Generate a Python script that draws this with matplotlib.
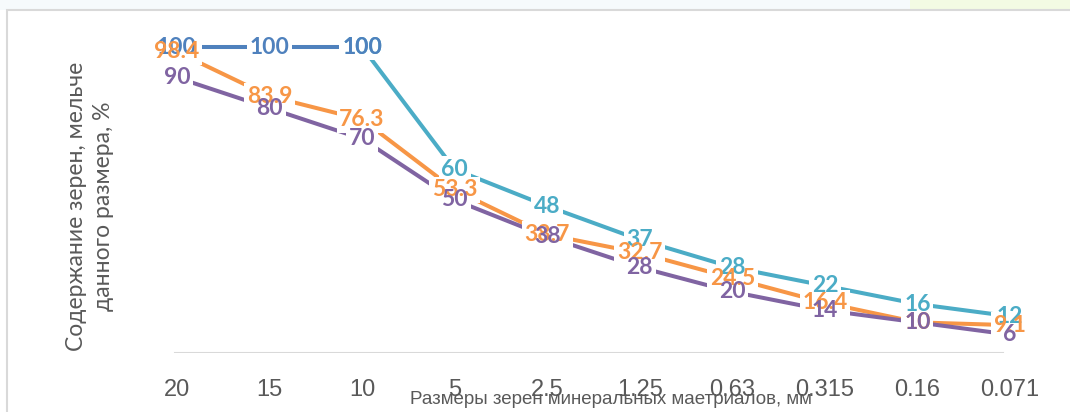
import numpy as np
import matplotlib
matplotlib.use("Agg")
import matplotlib.pyplot as plt
from matplotlib.patches import Rectangle

# data
sizes = ['20', '15', '10', '5', '2.5', '1.25', '0.63', '0.315', '0.16', '0.071']
blue_vals = [100, 100, 100]
teal_vals = [np.nan, np.nan, 100, 60, 48, 37, 28, 22, 16, 12]
orange_vals = [98.4, 83.9, 76.3, 53.3, 38.7, 32.7, 24.5, 16.4, 10, 9.1]
purple_vals = [90, 80, 70, 50, 38, 28, 20, 14, 10, 6]

series = [
    (teal_vals, '#4BACC6'),
    (blue_vals, '#4F81BD'),
    (orange_vals, '#F79646'),
    (purple_vals, '#8064A2'),
]

W, H = 1070, 412
fig = plt.figure(figsize=(W / 100, H / 100), dpi=100)
fig.patch.set_facecolor('white')

# faint background above the chart frame and the frame itself
fig.patches.append(Rectangle((0, 1 - 10 / H), 1, 10 / H, transform=fig.transFigure,
                             facecolor='#F6FAFC', edgecolor='none', zorder=0))
fig.patches.append(Rectangle((910 / W, 1 - 10 / H), 160 / W, 10 / H, transform=fig.transFigure,
                             facecolor='#F3FBE3', edgecolor='none', zorder=0))
fig.patches.append(Rectangle((7 / W, -0.1), 1.2, 1 - 10 / H + 0.1, transform=fig.transFigure,
                             facecolor='none', edgecolor='#D9D9D9', lw=1.5, zorder=1))

ax = fig.add_axes([130.7 / W, (H - 353) / H, 925.6 / W, 105 * 3.06 / H])
ax.set_facecolor('none')
ax.set_xlim(-0.5, 9.5)
ax.set_ylim(0, 105)

x = np.arange(len(sizes))
for vals, col in series:
    ax.plot(x[:len(vals)], vals, color=col, lw=2.9, solid_capstyle='butt', zorder=2)

lab_font = dict(family=['Lato', 'DejaVu Sans'], fontsize=16.5, fontweight='bold')
# white boxes first, then the texts, so overlapping labels stay readable
for vals, col in series:
    for xi, v in zip(x, vals):
        if np.isnan(v):
            continue
        ax.text(xi, v, f'{v:g}', ha='center', va='center', color='none', zorder=5,
                bbox=dict(boxstyle='square,pad=0.12', fc='white', ec='none'), **lab_font)
for vals, col in series:
    for xi, v in zip(x, vals):
        if np.isnan(v):
            continue
        ax.text(xi, v, f'{v:g}', ha='center', va='center', color=col, zorder=6, **lab_font)

ax.axhline(0, xmin=0.048, xmax=0.942, color='#D9D9D9', lw=1.5, zorder=1)
for s in ax.spines.values():
    s.set_visible(False)
ax.set_yticks([])
ax.set_xticks(x)
ax.set_xticklabels(sizes, family=['Liberation Sans', 'DejaVu Sans'],
                   fontsize=17, color='#595959')
ax.tick_params(axis='x', length=0, pad=19)

fig.text(90 / W, 1 - 206 / H, 'Содержание зерен, мельче\nданного размера, %',
         rotation=90, ha='center', va='center', multialignment='center',
         family=['Lato', 'DejaVu Sans'], fontsize=16.5, color='#595959', linespacing=1.35)
fig.text(611 / W, 1 - 404 / H, 'Размеры зерен минеральных маетриалов, мм',
         ha='center', va='baseline', family=['Liberation Sans', 'DejaVu Sans'],
         fontsize=13.5, color='#595959')

fig.savefig('out.png', dpi=100)
